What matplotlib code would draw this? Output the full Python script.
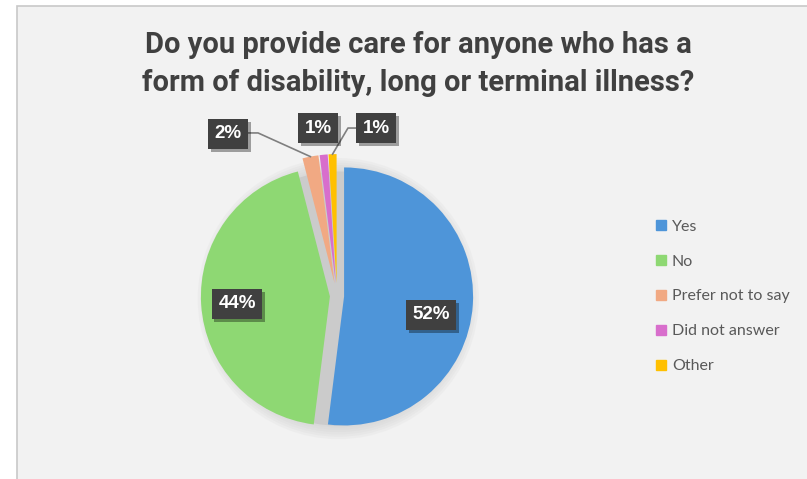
import numpy as np
import matplotlib.pyplot as plt
from matplotlib.patches import Rectangle, Circle
from matplotlib.lines import Line2D
import matplotlib.patheffects as pe

# survey answers
categories = ['Yes', 'No', 'Prefer not to say', 'Did not answer', 'Other']
values = [52, 44, 2, 1, 1]
colors = ['#4e95d9', '#8ed873', '#f1a983', '#d86ecc', '#ffc000']
explode = [0.055, 0.055, 0.1, 0.1, 0.1]

title = 'Do you provide care for anyone who has a\nform of disability, long or terminal illness?'

W, H = 807, 479
fig = plt.figure(figsize=(W / 100, H / 100), dpi=100, facecolor='white')

# chart area background
fig.patches.append(Rectangle((17 / W, -0.01), 1.0, 1 - 6 / H + 0.01, transform=fig.transFigure,
                             facecolor='#f2f2f2', edgecolor='#c8c8c8', lw=1.2, zorder=-5))

# pie axes, centre at (337, 296) px with radius 129 px
cx, cy, R = 337, 296, 129
half = 220
ax = fig.add_axes([(cx - half) / W, (H - cy - half) / H, 2 * half / W, 2 * half / H])

# soft shadow behind the pie
ax.add_patch(Circle((0.01, -0.02), 0.98, color='#d2d2d2', zorder=0))
for i in range(6):
    ax.add_patch(Circle((0.01, -0.02), 1.0 + i * 0.018, color='#c8c8c8', alpha=0.12, lw=0, zorder=0))

wedges, _ = ax.pie(values, colors=colors, startangle=90, counterclock=False, explode=explode,
                   radius=1, wedgeprops=dict(lw=0, zorder=2))
ax.set_xlim(-half / R, half / R)
ax.set_ylim(-half / R, half / R)
ax.set_aspect('equal')
ax.axis('off')

box = dict(boxstyle='square,pad=0.35', facecolor='#404040', edgecolor='none')
shadow = [pe.withSimplePatchShadow(offset=(2, -2), shadow_rgbFace='#000000', alpha=0.35)]

# label placement (data units from pie centre)
label_pos = [(0.73, -0.147), (-0.775, -0.062), (-0.845, 1.256), (-0.147, 1.302), (0.302, 1.302)]
elbows = {2: (-0.612, 1.264), 4: (0.085, 1.302)}

for i, (w, v) in enumerate(zip(wedges, values)):
    tx, ty = label_pos[i]
    t = ax.text(tx, ty, f'{v}%', ha='center', va='center', color='white', fontsize=13.5,
                fontweight='bold', family='Liberation Sans', bbox=box, zorder=5)
    t.get_bbox_patch().set_path_effects(shadow)
    if i in elbows:
        mid = np.deg2rad((w.theta1 + w.theta2) / 2)
        r = 1 + explode[i]
        tip = (r * np.cos(mid), r * np.sin(mid))
        ex, ey = elbows[i]
        edge = tx + (0.16 if tx < ex else -0.16)
        ax.plot([tip[0], ex, edge], [tip[1], ey, ey], color='#7f7f7f', lw=1.2, zorder=4)

fig.text(418 / W, 1 - 64 / H, title, ha='center', va='center', fontsize=21, fontweight='bold',
         color='#404040', family=['Roboto', 'DejaVu Sans'], linespacing=1.45)

handles = [Line2D([], [], marker='s', linestyle='none', markersize=7, color=c) for c in colors]
fig.legend(handles, categories, loc='upper left', bbox_to_anchor=(640 / W, 1 - 205 / H),
           frameon=False, handlelength=0.8, handletextpad=0.3, labelspacing=1.3,
           prop=dict(family='Lato', size=11.5), labelcolor='#595959')

fig.savefig('out.png', dpi=100, facecolor='white')
